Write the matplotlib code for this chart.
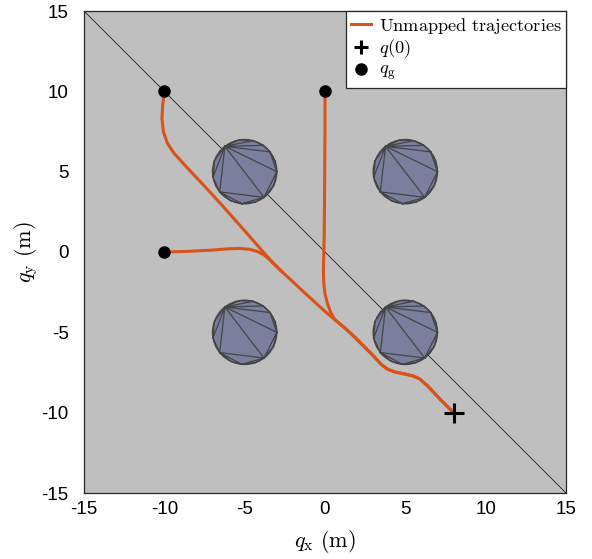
import numpy as np
import matplotlib
matplotlib.use("Agg")
import matplotlib.pyplot as plt
import matplotlib.tri as mtri
from matplotlib.patches import Circle
from matplotlib.lines import Line2D

plt.rcParams['mathtext.fontset'] = 'cm'
plt.rcParams['font.family'] = ['Liberation Sans', 'DejaVu Sans']
plt.rcParams['axes.unicode_minus'] = False

# data
start = (8, -10)
goals_x = [-10, 0, -10]
goals_y = [10, 10, 0]

obst_x = [-5, 5, -5, 5]
obst_y = [5, 5, -5, -5]
obst_r = 2.0
# vertex angles (deg) of the triangulated obstacle polygon
vert_deg = [128, 160, 190, 219, 245, 265, 290, 307, 335, 0, 20, 38, 55, 75, 100]
tris = [[0, 1, 2], [0, 2, 3], [0, 3, 7], [3, 4, 5], [3, 5, 7], [5, 6, 7],
        [0, 7, 9], [7, 8, 9], [0, 9, 11], [9, 10, 11], [0, 11, 12],
        [0, 12, 13], [0, 13, 14]]

# shared part of all trajectories, from q(0)
common_x = [8, 7.2, 6.4, 5.9, 5.5, 5.0, 4.4, 3.9, 3.5, 3.0, 2.4, 1.8, 1.2, 0.6]
common_y = [-10, -9.2, -8.35, -7.9, -7.72, -7.6, -7.48, -7.3, -7.0, -6.45, -5.85, -5.25, -4.7, -4.2]

traj1_x = [0.35, 0.15, 0.0, -0.08, -0.1, -0.08, -0.05, -0.03, -0.02, 0, 0]
traj1_y = [-3.75, -3.2, -2.6, -1.9, -1.1, -0.3, 1, 3, 5, 7.5, 10]

traj2_x = [0, -0.6, -1.2, -2.0, -2.6, -3.22, -3.8, -4.5, -5.29, -6.4, -7.5,
           -8.3, -8.9, -9.4, -9.8, -10.05, -10.15, -10.1, -10]
traj2_y = [-3.7, -3.15, -2.6, -1.85, -1.3, -0.7, -0.05, 0.75, 1.65, 2.9, 4.1,
           4.95, 5.6, 6.15, 6.75, 7.45, 8.3, 9.2, 10]

# third trajectory leaves the second one at index 4
traj3_x = [-3.1, -3.45, -3.8, -4.2, -4.7, -5.3, -6.0, -7.0, -8.5, -10]
traj3_y = [-0.82, -0.47, -0.18, 0.03, 0.17, 0.22, 0.2, 0.12, 0.04, 0]

orange = '#d95319'
edge = '#454545'

fig = plt.figure(figsize=(5.92, 5.59), dpi=100)
ax = fig.add_axes([84 / 592, 66 / 559, 482 / 592, 482 / 559])
ax.set_facecolor('#bfbfbf')

ax.plot([-15, 15], [15, -15], color='k', lw=0.5, zorder=1)

ang = np.deg2rad(vert_deg)
for cx, cy in zip(obst_x, obst_y):
    px = cx + obst_r * np.cos(ang)
    py = cy + obst_r * np.sin(ang)
    ax.add_patch(Circle((cx, cy), obst_r, facecolor='#7b7f9e',
                        edgecolor=edge, lw=1.0, zorder=2))
    tr = mtri.Triangulation(px, py, tris)
    ax.triplot(tr, color=edge, lw=0.9, zorder=3)

kw = dict(color=orange, lw=2.2, solid_joinstyle='round',
          solid_capstyle='round', zorder=4)
ax.plot(common_x + traj1_x, common_y + traj1_y, **kw)
ax.plot(common_x + traj2_x, common_y + traj2_y, **kw)
ax.plot(traj2_x[4:5] + traj3_x, traj2_y[4:5] + traj3_y, **kw)

ax.plot(*start, marker='+', color='k', ms=15, mew=2.2, ls='none', zorder=5)
ax.plot(goals_x, goals_y, 'o', color='k', ms=8, ls='none', zorder=5)

ax.set_xlim(-15, 15)
ax.set_ylim(-15, 15)
ax.set_xticks([-15, -10, -5, 0, 5, 10, 15])
ax.set_yticks([-15, -10, -5, 0, 5, 10, 15])
ax.tick_params(length=0, labelsize=13.5)
ax.tick_params(axis='x', pad=6)
ax.tick_params(axis='y', pad=11)
for s in ax.spines.values():
    s.set_color('#262626')
    s.set_linewidth(0.9)

ax.set_xlabel(r'$q_{\mathrm{x}}\ (\mathrm{m})$', fontsize=16, labelpad=7)
ax.set_ylabel(r'$q_{\mathrm{y}}\ (\mathrm{m})$', fontsize=16, labelpad=1)

handles = [
    Line2D([], [], color=orange, lw=2.2),
    Line2D([], [], marker='+', color='k', ms=10, mew=2.2, ls='none'),
    Line2D([], [], marker='o', color='k', ms=8, ls='none'),
]
labels = [r'$\mathrm{Unmapped\ trajectories}$', r'$q(0)$', r'$q_{\mathrm{g}}$']
leg = ax.legend(handles, labels, loc='upper right', fontsize=13.2,
                frameon=True, fancybox=False, borderaxespad=0,
                handlelength=1.1, handletextpad=0.4, labelspacing=0.1,
                borderpad=0.25)
leg.get_frame().set_edgecolor('#262626')
leg.get_frame().set_linewidth(0.9)
leg.get_frame().set_alpha(1)

fig.savefig('out.png', dpi=100)
